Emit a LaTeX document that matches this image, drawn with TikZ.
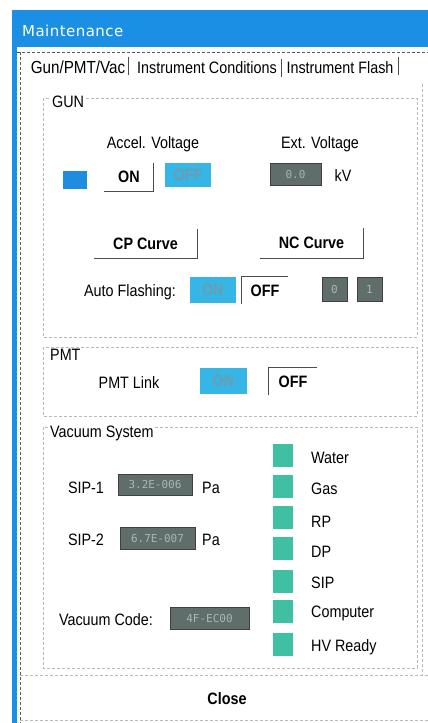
\documentclass[tikz,border=0pt]{standalone}
\usepackage{fontspec}
\setmainfont[FakeStretch=0.87]{Liberation Sans}
\newfontfamily\titlefont[LetterSpace=3]{DejaVu Sans}
\newfontfamily\dispfont{DejaVu Sans Mono}
\definecolor{titleblue}{HTML}{1A8FE3}
\definecolor{cyanbtn}{HTML}{35B6E6}
\definecolor{cyantxt}{HTML}{6F9CAD}
\definecolor{sqblue}{HTML}{1E8CE0}
\definecolor{dispgrey}{HTML}{5F6D6B}
\definecolor{disptxt}{HTML}{A9B6B3}
\definecolor{indgreen}{HTML}{3FC0A2}
\begin{document}
\begin{tikzpicture}[x=1pt,y=-1pt,
  txt/.style={inner sep=0pt,font=\fontsize{16.5}{18}\selectfont},
  btxt/.style={inner sep=0pt,font=\fontsize{16.5}{18}\selectfont\bfseries},
  grp/.style={draw=gray!55,densely dashed,line width=0.6pt},
  frameline/.style={draw=gray!70!black,densely dashed,line width=0.7pt},
  bevel/.style={draw=gray!60!black,line width=0.8pt},
  cbtn/.style={fill=cyanbtn,text=cyantxt,inner sep=0pt,font=\fontsize{16.5}{18}\selectfont\bfseries},
  disp/.style={fill=dispgrey,draw=gray!50!black,line width=0.6pt,text=disptxt,inner sep=2pt,font=\dispfont\fontsize{11}{12}\selectfont,align=right},
  ind/.style={fill=indgreen,minimum width=20pt,minimum height=23pt,inner sep=0pt},
  glabel/.style={txt,fill=white,inner xsep=1pt,anchor=west}]
\useasboundingbox (0,0) rectangle (428,723);
\fill[white] (0,0) rectangle (428,723);
% window frame
\fill[titleblue] (12,10) rectangle (428,47);
\fill[titleblue] (12,47) rectangle (17,723);
\node[anchor=west,text=white,inner sep=0pt,font=\titlefont\fontsize{15}{17}\selectfont] (title) at (22,31) {Maintenance};
% tab strip and panel
\coordinate (tl) at (17,52);
\coordinate (tr) at (428,52);
\draw[frameline] (tl) -- (tr);
\coordinate (pl1) at (20,52);
\coordinate (pl2) at (20,723);
\draw[frameline] (pl1) -- (pl2);
\coordinate (pr1) at (422,84);
\coordinate (pr2) at (422,675);
\draw[grp] (pr1) -- (pr2);
\node[inner sep=0pt,font=\fontsize{17.5}{19}\selectfont] (tab1) at (78,67) {Gun/PMT/Vac};
\node[txt] (tab2) at (207,68) {Instrument Conditions};
\node[txt] (tab3) at (340,68) {Instrument Flash};
\draw[bevel,line width=0.6pt] ([xshift=3pt]tab1.north east) ++(0,-3) -- ++(0,18);
\draw[bevel,line width=0.6pt] ([xshift=4pt]tab2.north east) ++(0,-3) -- ++(0,18);
\draw[bevel,line width=0.6pt] ([xshift=5pt]tab3.north east) ++(0,-5) -- ++(0,18);
% ---------------- GUN ----------------
\draw[grp] (43,98) rectangle (417,337);
\node[glabel] (gunl) at (51,102) {GUN};
\node[txt] (accl) at (153,144) {Accel. Voltage};
\node[txt] (extl) at (320,144) {Ext. Voltage};
\node[fill=sqblue,minimum width=24pt,minimum height=18pt,inner sep=0pt] (bsq) at (75,180) {};
\node[btxt,minimum width=49pt,minimum height=28pt] (aon) at (129,177) {ON};
\draw[bevel] (aon.south west) -- (aon.south east) -- (aon.north east);
\node[cbtn,minimum width=46pt,minimum height=24pt] (aoff) at (188,175) {OFF};
\node[disp,minimum width=51pt,minimum height=22pt] (extd) at (295.5,174) {0.0};
\node[txt] (kv) at (343,176) {kV};
\node[btxt,minimum width=103pt,minimum height=29pt] (cp) at (145.5,243.5) {CP Curve};
\draw[bevel] (cp.south west) -- (cp.south east) -- (cp.north east);
\node[btxt,minimum width=103pt,minimum height=30pt] (nc) at (311.5,243) {NC Curve};
\draw[bevel] (nc.south west) -- (nc.south east) -- (nc.north east);
\node[txt] (afl) at (130,292) {Auto Flashing:};
\node[cbtn,minimum width=46pt,minimum height=26pt] (afon) at (213,290) {ON};
\node[btxt,minimum width=46pt,minimum height=27pt] (afoff) at (265,290.5) {OFF};
\draw[bevel] (afoff.south west) -- (afoff.north west) -- (afoff.north east);
\node[disp,minimum width=25pt,minimum height=24pt,align=center] (afd1) at (334.5,289) {0};
\node[disp,minimum width=25pt,minimum height=24pt,align=center] (afd2) at (369.5,289) {1};
% ---------------- PMT ----------------
\draw[grp] (43,347) rectangle (417,416);
\node[glabel] (pmtl) at (49,355) {PMT};
\node[txt] (pmtlink) at (129,383) {PMT Link};
\node[cbtn,minimum width=47pt,minimum height=26pt] (pon) at (223.5,381) {ON};
\node[btxt,minimum width=48pt,minimum height=27pt] (poff) at (293,381.5) {OFF};
\draw[bevel] (poff.south west) -- (poff.north west) -- (poff.north east);
% ---------------- Vacuum System ----------------
\draw[grp] (43,427) rectangle (417,668);
\node[glabel] (vacl) at (49,433) {Vacuum System};
\node[txt] (sip1) at (86,488) {SIP-1};
\node[disp,minimum width=74pt,minimum height=21pt] (sip1d) at (155,484.5) {3.2E-006};
\node[txt,anchor=west] (pa1) at (202,488) {Pa};
\node[txt] (sip2) at (86,540) {SIP-2};
\node[disp,minimum width=75pt,minimum height=22pt] (sip2d) at (157.5,538) {6.7E-007};
\node[txt,anchor=west] (pa2) at (202,540) {Pa};
\node[txt] (vcode) at (106,620) {Vacuum Code:};
\node[disp,minimum width=79pt,minimum height=22pt] (vcd) at (209.5,618) {4F-EC00};
\node[ind] (i1) at (283,455) {};
\node[ind] (i2) at (283,486) {};
\node[ind] (i3) at (283,517) {};
\node[ind] (i4) at (283,548.5) {};
\node[ind] (i5) at (283,581) {};
\node[ind] (i6) at (283,611.5) {};
\node[ind] (i7) at (283,644) {};
\node[txt,anchor=west] (l1) at (311,458) {Water};
\node[txt,anchor=west] (l2) at (311,489) {Gas};
\node[txt,anchor=west] (l3) at (311,522) {RP};
\node[txt,anchor=west] (l4) at (311,552) {DP};
\node[txt,anchor=west] (l5) at (311,583) {SIP};
\node[txt,anchor=west] (l6) at (311,613) {Computer};
\node[txt,anchor=west] (l7) at (311,647) {HV Ready};
% ---------------- Close ----------------
\coordinate (c1) at (20,675);
\coordinate (c2) at (428,675);
\draw[grp] (c1) -- (c2);
\node[btxt] (close) at (227,699) {Close};
\coordinate (b1) at (20,720);
\coordinate (b2) at (428,720);
\draw[grp] (b1) -- (b2);
\end{tikzpicture}
\end{document}
